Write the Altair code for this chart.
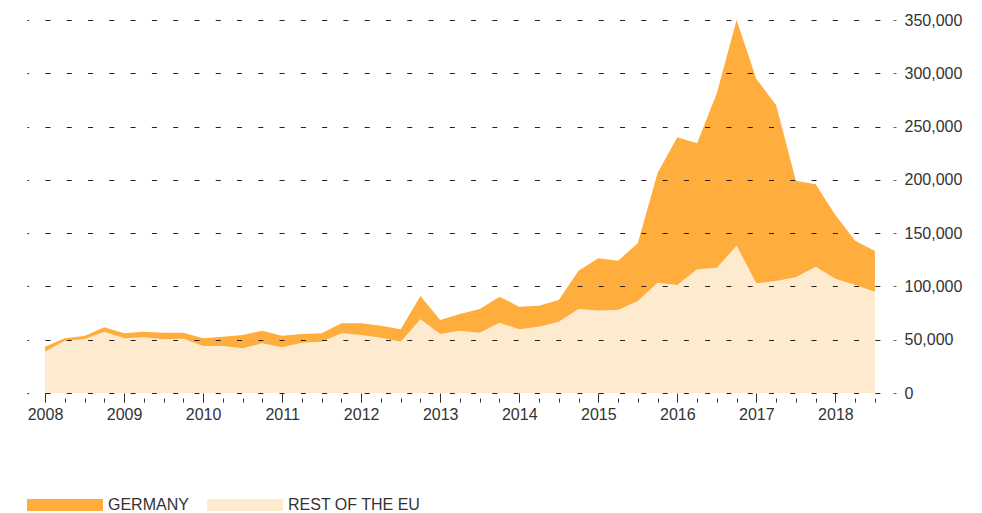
import altair as alt
import pandas as pd

# Quarterly values, 2008 Q1 .. 2018 Q3 (43 quarters)
quarters = list(range(43))
rest_of_eu = [38800, 49100, 50400, 57500, 51300, 52300, 50400, 51000, 44100, 44100,
              41900, 46600, 42900, 47200, 48200, 56000, 54400, 51900, 48200, 69200,
              55400, 58500, 56600, 66000, 59800, 62200, 66900, 78800, 77300, 77900,
              86300, 103500, 101300, 116100, 117600, 138200, 102900, 105100, 108600, 118500,
              107300, 101300, 95100]
germany = [4700, 2200, 3100, 4100, 4700, 5200, 6200, 5600, 7200, 8700,
           12500, 11900, 10900, 8200, 7800, 9400, 11000, 11300, 11600, 21800,
           13100, 15600, 22200, 24400, 21200, 19700, 20400, 36000, 49100, 46300,
           54200, 103000, 138600, 118200, 163600, 211800, 191700, 165100, 90600, 77300,
           59700, 41600, 38100]
series = ["GERMANY", "REST OF THE EU"]
series_colors = ["#FFAE3D", "#FEEACF"]
year_ticks = list(range(0, 41, 4))
y_ticks = [0, 50000, 100000, 150000, 200000, 250000, 300000, 350000]

rows = []
for q, r, g in zip(quarters, rest_of_eu, germany):
    rows.append({"q": q, "series": "REST OF THE EU", "value": r, "ord": 0})
    rows.append({"q": q, "series": "GERMANY", "value": g, "ord": 1})
df = pd.DataFrame(rows)

FONT = "Liberation Sans"
TXT = "#333333"

xscale = alt.Scale(domain=[-0.911, 42.915], nice=False, zero=False)

major_axis = alt.Axis(
    orient="bottom", values=year_ticks, labelExpr="toString(2008 + datum.value / 4)",
    title=None, grid=False, domain=False, ticks=True, tickSize=9, tickColor=TXT,
    tickWidth=1, labelFontSize=16, labelColor=TXT, labelFont=FONT, labelPadding=4,
    labelFlush=False,
)
minor_axis = alt.Axis(
    orient="bottom", values=quarters, labels=False, title=None, grid=False,
    domain=False, ticks=True, tickSize=4, tickColor=TXT, tickWidth=1, offset=5,
)
y_axis = alt.Axis(
    orient="right", values=y_ticks, labelExpr="format(datum.value, ',')", title=None,
    domain=False, grid=True, gridDash=[5, 16.28], gridDashOffset=8.18,
    gridColor="#222222", gridWidth=1, ticks=True, tickSize=3, tickColor="#666666",
    labelPadding=8, labelFontSize=16, labelColor=TXT, labelFont=FONT, zindex=1,
)

areas = alt.Chart(df).mark_area(opacity=1).encode(
    x=alt.X("q:Q", scale=xscale, axis=major_axis),
    y=alt.Y("value:Q", stack="zero",
            scale=alt.Scale(domain=[0, 350000], nice=False), axis=y_axis),
    color=alt.Color(
        "series:N",
        scale=alt.Scale(domain=series, range=series_colors),
        legend=alt.Legend(
            title=None, orient="none", legendX=0, legendY=447, direction="horizontal",
            padding=0, symbolType="M-1,-0.158H1V0.158H-1Z", symbolSize=5776,
            symbolStrokeWidth=0, symbolOpacity=1, labelFontSize=16, labelColor=TXT,
            labelFont=FONT, labelOffset=5, columnPadding=18,
        ),
    ),
    order=alt.Order("ord:Q"),
)

minor = alt.Chart(df).mark_point(opacity=0).encode(
    x=alt.X("q:Q", scale=xscale, axis=minor_axis),
)

chart = alt.layer(areas, minor).resolve_scale(x="shared").resolve_axis(
    x="independent"
).properties(
    width=866, height=373,
    padding={"left": 19, "top": 12, "right": 70, "bottom": 122},
    autosize="none",
).configure(background="white").configure_view(stroke=None)

chart.save("out.html", embed_options={"renderer": "svg", "actions": False})
